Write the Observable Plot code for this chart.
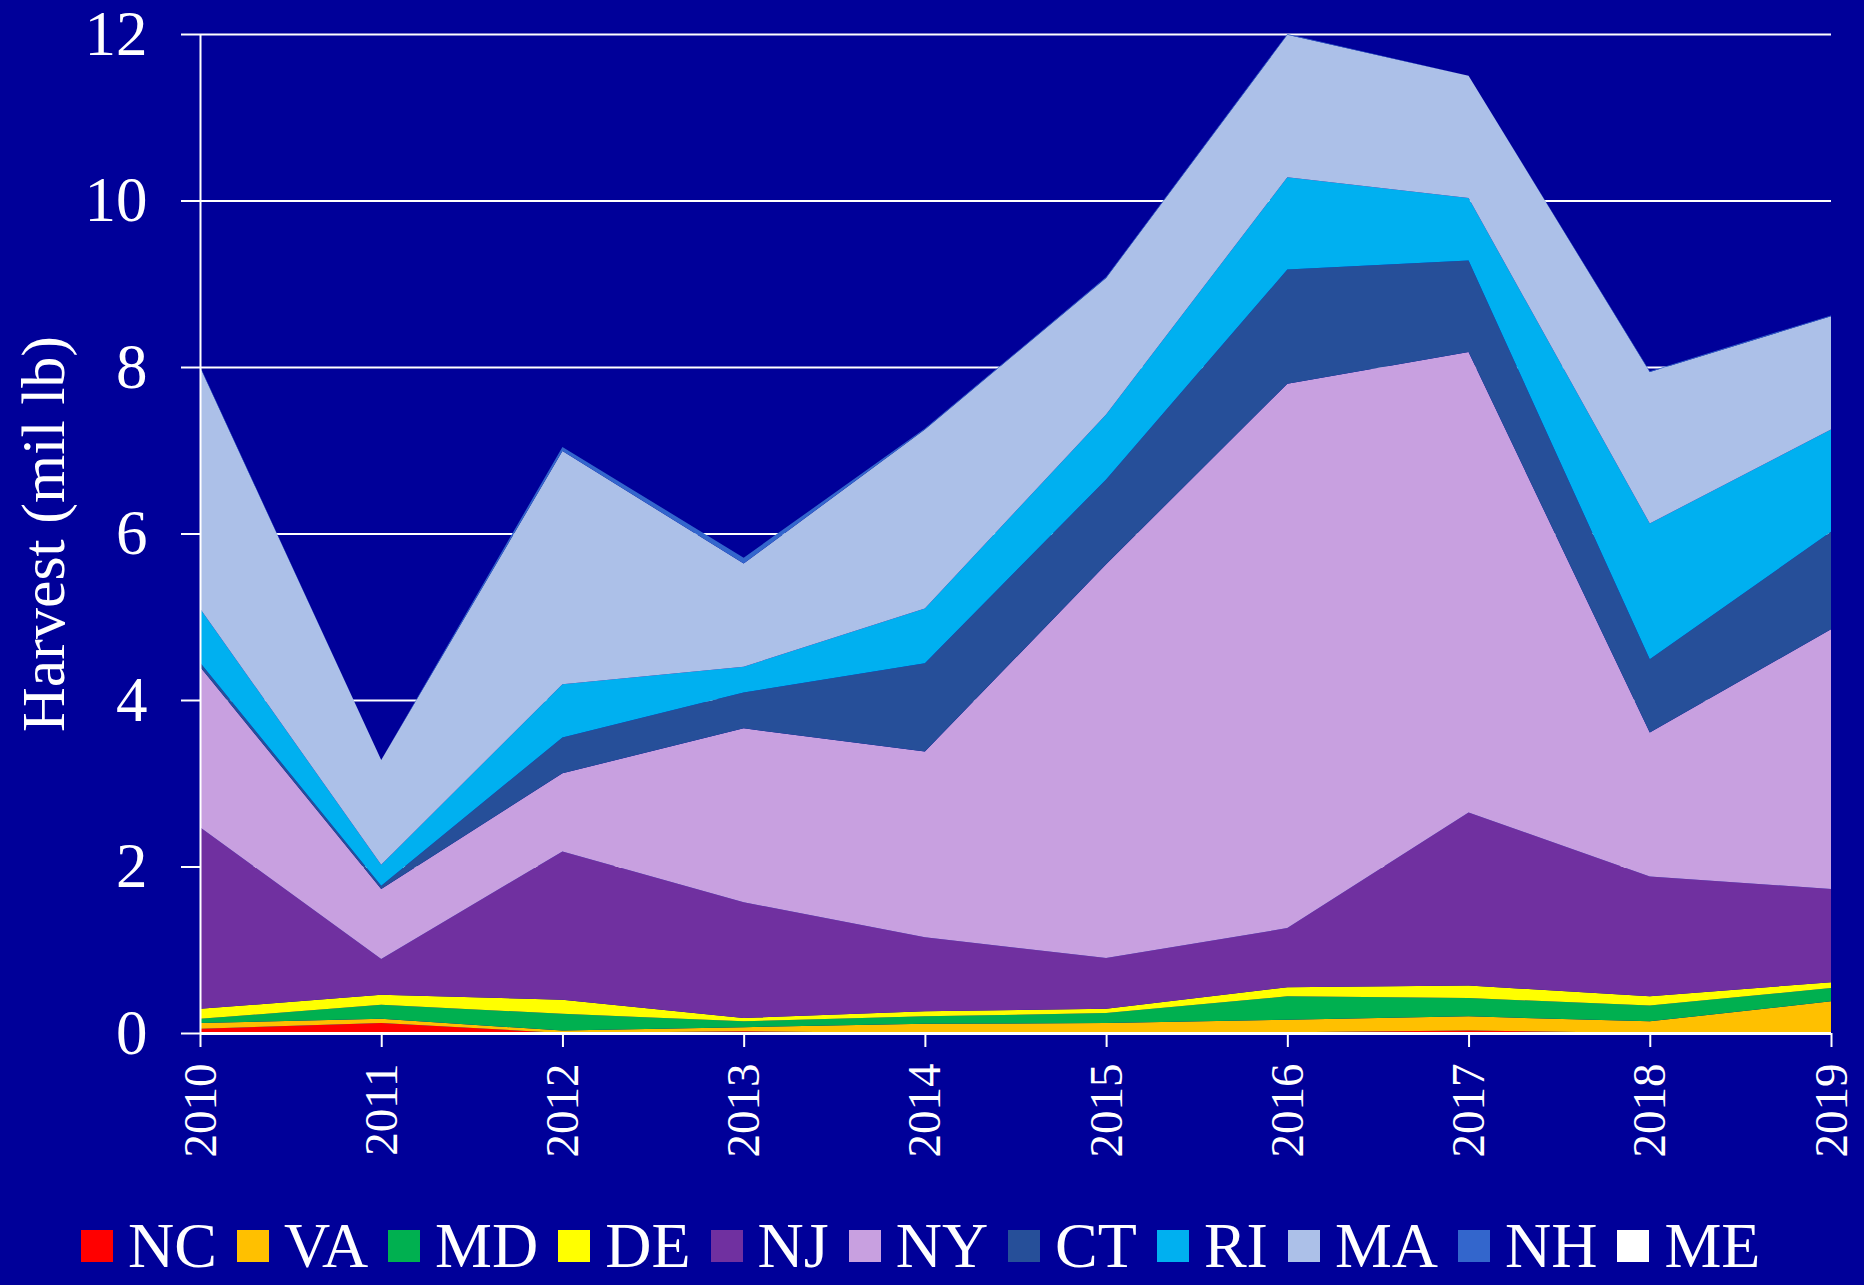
<!DOCTYPE html>
<html>
<head>
<meta charset="utf-8">
<script src="https://cdn.jsdelivr.net/npm/d3@7"></script>
<script src="https://cdn.jsdelivr.net/npm/@observablehq/plot@0.6"></script>
<style>
  html, body { margin: 0; padding: 0; background: #000099; }
  body { width: 1864px; height: 1285px; overflow: hidden; font-family: "Liberation Serif", "Times New Roman", serif; }
  #legend { display: flex; align-items: center; gap: 20px; padding-left: 81px; height: 85px; color: white; font-size: 64px; line-height: 1; box-sizing: border-box; padding-top: 6px; }
  #legend .item { display: flex; align-items: center; }
  #legend .sw { width: 32px; height: 32px; margin-right: 15px; }
</style>
</head>
<body>
<div id="chart"></div>
<div id="legend"></div>
<script>
const years = [2010, 2011, 2012, 2013, 2014, 2015, 2016, 2017, 2018, 2019];
const states = ["NC", "VA", "MD", "DE", "NJ", "NY", "CT", "RI", "MA", "NH", "ME"];
const stateColors = ["#FF0000", "#FFC000", "#00B050", "#FFFF00", "#7030A0", "#C8A0E0", "#264F99", "#00B0F0", "#ACC0E8", "#3366CC", "#FFFFFF"];

// Harvest (million lb) by state
const NC = [0.05, 0.12, 0.00, 0.02, 0.00, 0.00, 0.01, 0.03, 0.00, 0.00];
const VA = [0.07, 0.05, 0.03, 0.05, 0.11, 0.12, 0.15, 0.17, 0.14, 0.38];
const MD = [0.05, 0.17, 0.20, 0.07, 0.09, 0.12, 0.28, 0.22, 0.19, 0.16];
const DE = [0.12, 0.12, 0.17, 0.04, 0.06, 0.05, 0.11, 0.15, 0.11, 0.07];
const NJ = [2.18, 0.43, 1.78, 1.39, 0.89, 0.61, 0.71, 2.08, 1.44, 1.12];
const NY = [1.93, 0.84, 0.94, 2.09, 2.23, 4.73, 6.54, 5.53, 1.73, 3.12];
const CT = [0.05, 0.04, 0.43, 0.43, 1.06, 1.02, 1.37, 1.10, 0.88, 1.17];
const RI = [0.65, 0.25, 0.64, 0.31, 0.66, 0.78, 1.11, 0.75, 1.63, 1.23];
const MA = [2.90, 1.26, 2.80, 1.24, 2.15, 1.64, 1.71, 1.47, 1.82, 1.36];
const NH = [0.01, 0.00, 0.05, 0.07, 0.01, 0.01, 0.01, 0.00, 0.01, 0.01];
const ME = [0.00, 0.00, 0.00, 0.00, 0.00, 0.00, 0.00, 0.00, 0.00, 0.00];

const yTicks = [0, 2, 4, 6, 8, 10, 12];
const yLabel = "Harvest (mil lb)";

const series = [NC, VA, MD, DE, NJ, NY, CT, RI, MA, NH, ME];
const data = [];
states.forEach((s, i) => {
  years.forEach((yr, j) => data.push({year: yr, state: s, value: series[i][j]}));
});

const chart = Plot.plot({
  width: 1864,
  height: 1200,
  marginLeft: 200,
  marginRight: 33,
  marginTop: 34,
  marginBottom: 167,
  style: {background: "#000099", color: "white", fontFamily: "'Liberation Serif', 'Times New Roman', serif"},
  x: {domain: [2010, 2019]},
  y: {domain: [0, 12]},
  color: {domain: states, range: stateColors},
  marks: [
    Plot.gridY(yTicks, {stroke: "white", strokeOpacity: 1, strokeWidth: 2}),
    Plot.areaY(data, {x: "year", y: "value", z: "state", fill: "state", order: states, curve: "linear"}),
    Plot.ruleX([2010], {stroke: "white", strokeWidth: 2}),
    Plot.ruleY([0], {stroke: "white", strokeWidth: 3}),
    Plot.axisY(yTicks, {tickFormat: d => String(d), tickSize: 19, tickPadding: 34, fontSize: 63, stroke: "white", strokeWidth: 2, fill: "white", label: null}),
    Plot.axisX(years, {tickFormat: d => String(d), tickRotate: -90, tickSize: 14, tickPadding: 16, fontSize: 47, stroke: "white", strokeWidth: 2, fill: "white", label: null}),
    Plot.text([yLabel], {frameAnchor: "left", textAnchor: "middle", dx: -156, rotate: -90, fontSize: 62, fill: "white", text: d => d})
  ]
});
document.getElementById("chart").appendChild(chart);

const legend = document.getElementById("legend");
states.forEach((s, i) => {
  const item = document.createElement("div");
  item.className = "item";
  const sw = document.createElement("span");
  sw.className = "sw";
  sw.style.background = stateColors[i];
  const lab = document.createElement("span");
  lab.textContent = s;
  item.appendChild(sw);
  item.appendChild(lab);
  legend.appendChild(item);
});
</script>
</body>
</html>
